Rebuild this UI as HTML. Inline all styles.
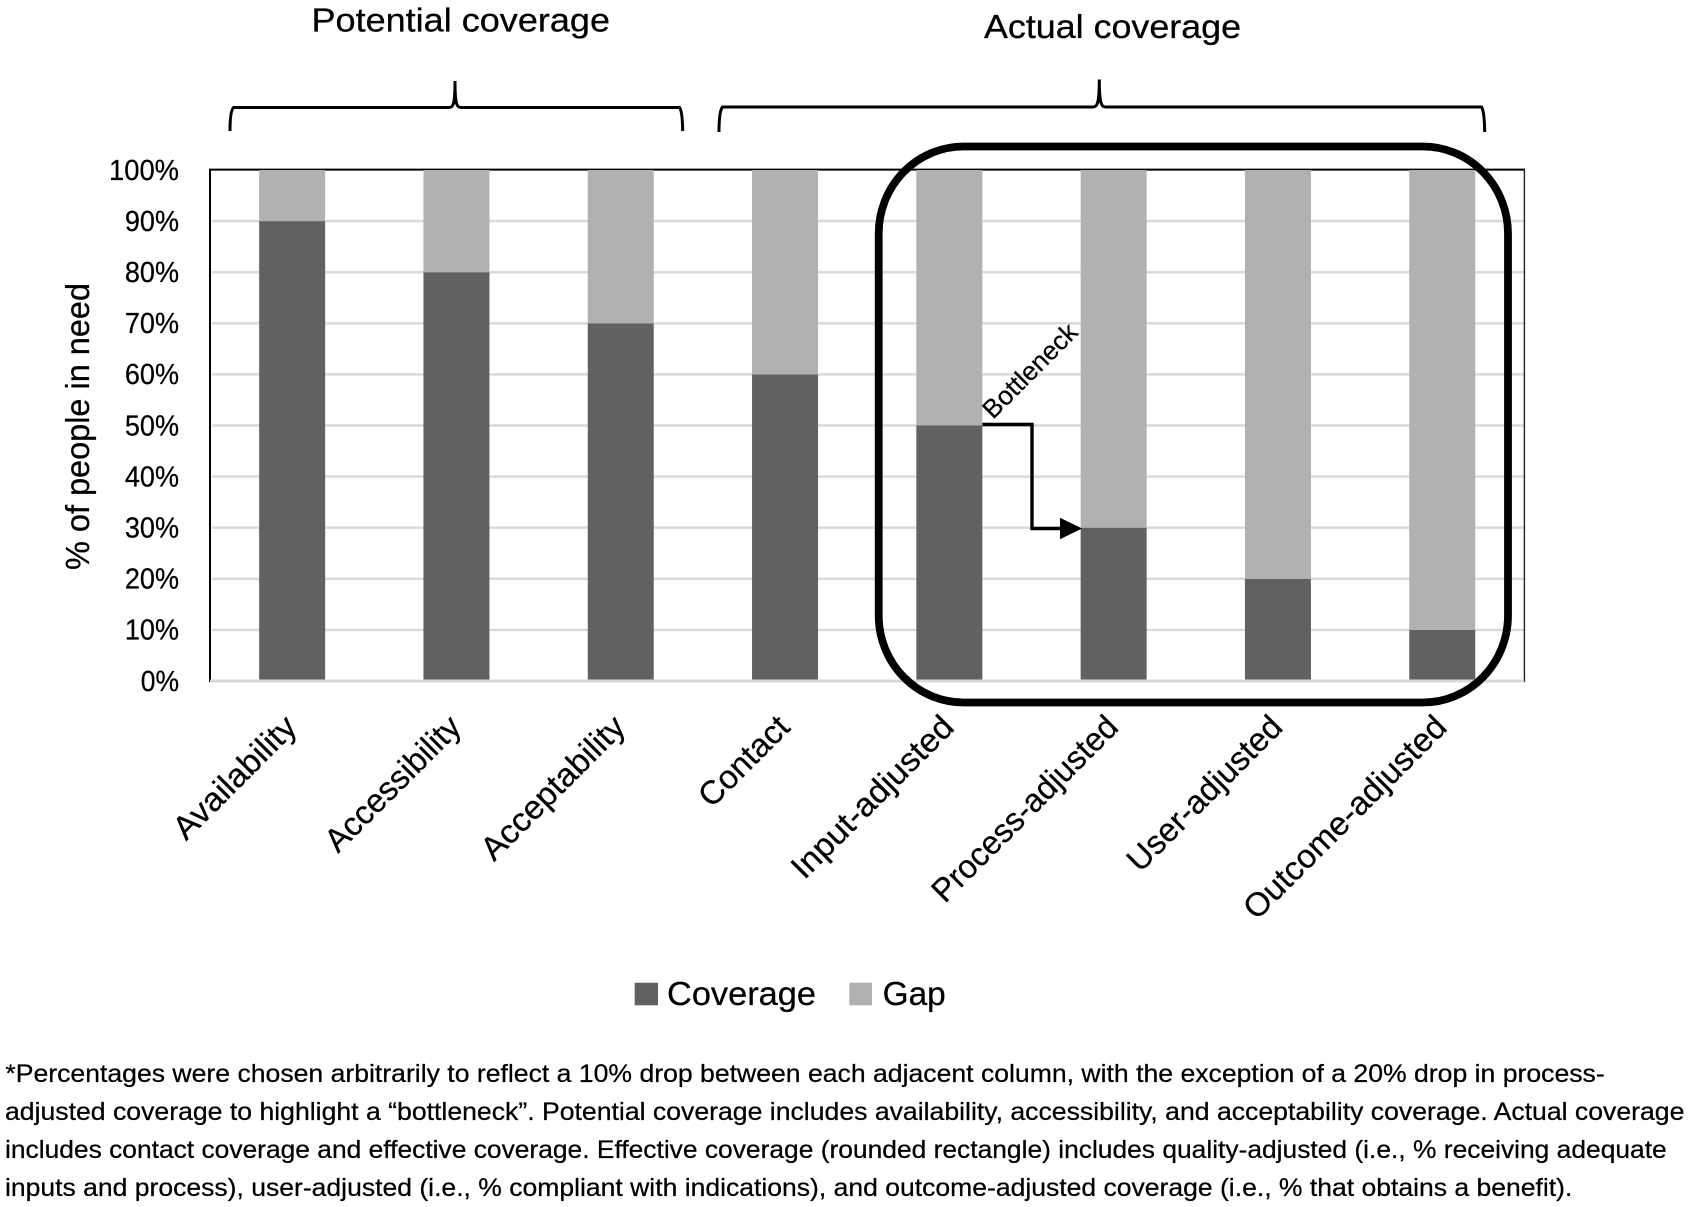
<!DOCTYPE html>
<html lang="en">
<head>
<meta charset="utf-8">
<title>Coverage cascade chart</title>
<style>
  html, body { margin: 0; padding: 0; background: #fff; }
  body { width: 1689px; height: 1207px; overflow: hidden; }
  svg { display: block; }
  text { font-family: "Liberation Sans", sans-serif; fill: #000; stroke: #000; stroke-width: 0.25px; }
</style>
</head>
<body>
<svg id="chart" xmlns="http://www.w3.org/2000/svg" width="1689" height="1207" viewBox="0 0 1689 1207">
  <rect x="0" y="0" width="1689" height="1207" fill="#ffffff"/>
  <g id="grid"></g>
  <path d="M209 169.6 H1525" stroke="#000" stroke-width="2" fill="none"/>
  <path d="M210 170 V682" stroke="#000" stroke-width="2" fill="none"/>
  <path d="M1524.4 170 V682" stroke="#222" stroke-width="1.4" fill="none"/>
  <g id="bars"></g>
  <path d="M210 681 H1524" stroke="#d9d9d9" stroke-width="3" fill="none"/>
  <g id="yticks"></g>
  <g id="xticks"></g>

  <text transform="translate(89 570) rotate(-90)" font-size="33" textLength="287" lengthAdjust="spacingAndGlyphs">% of people in need</text>

  <text x="311.5" y="31.5" font-size="33" textLength="298.5" lengthAdjust="spacingAndGlyphs">Potential coverage</text>
  <text x="984" y="38" font-size="33" textLength="257" lengthAdjust="spacingAndGlyphs">Actual coverage</text>

  <path fill="none" stroke="#000" stroke-width="3" d="M230 131 C230 119 231 110 233.5 107.5 L449 107.5 C453 107.5 455 105 455 81 C455 105 457 107.5 461 107.5 L679.5 107.5 C681.5 110 682.5 119 682.7 131"/>
  <path fill="none" stroke="#000" stroke-width="3" d="M719 132 C719 119 720 110 722.5 107 L1093 107 C1097 107 1099.3 104 1099.3 79.5 C1099.3 104 1101.5 107 1105.5 107 L1481.5 107 C1483.5 110 1484.5 119 1484.7 132"/>

  <rect x="878.7" y="146.5" width="629.3" height="556" rx="85" ry="87" fill="none" stroke="#000" stroke-width="7.8"/>

  <path d="M982.4 424.5 H1032 V528.5 H1062" fill="none" stroke="#000" stroke-width="3.4"/>
  <path d="M1060 517.8 L1082 528.5 L1060 539.2 Z" fill="#000"/>
  <text transform="translate(993 420) rotate(-45)" font-size="26" textLength="122" lengthAdjust="spacingAndGlyphs">Bottleneck</text>

  <rect x="634.7" y="982.7" width="23.3" height="22.6" fill="#616161"/>
  <text x="667" y="1005" font-size="33" textLength="149" lengthAdjust="spacingAndGlyphs">Coverage</text>
  <rect x="849.3" y="982.7" width="22.7" height="22.6" fill="#b1b1b1"/>
  <text x="882.7" y="1005" font-size="33" textLength="63" lengthAdjust="spacingAndGlyphs">Gap</text>

  <g font-size="25">
    <text x="5.4" y="1082" textLength="1599.3" lengthAdjust="spacingAndGlyphs">*Percentages were chosen arbitrarily to reflect a 10% drop between each adjacent column, with the exception of a 20% drop in process-</text>
    <text x="5" y="1120" textLength="1679.4" lengthAdjust="spacingAndGlyphs">adjusted coverage to highlight a “bottleneck”. Potential coverage includes availability, accessibility, and acceptability coverage. Actual coverage</text>
    <text x="5" y="1158" textLength="1661.7" lengthAdjust="spacingAndGlyphs">includes contact coverage and effective coverage. Effective coverage (rounded rectangle) includes quality-adjusted (i.e., % receiving adequate</text>
    <text x="5" y="1196" textLength="1567.4" lengthAdjust="spacingAndGlyphs">inputs and process), user-adjusted (i.e., % compliant with indications), and outcome-adjusted coverage (i.e., % that obtains a benefit).</text>
  </g>
</svg>
<script>
const categories = ["Availability", "Accessibility", "Acceptability", "Contact", "Input-adjusted", "Process-adjusted", "User-adjusted", "Outcome-adjusted"];
const coverageValues = [90, 80, 70, 60, 50, 30, 20, 10];
const gapValues = [10, 20, 30, 40, 50, 70, 80, 90];
const tickValues = [0, 10, 20, 30, 40, 50, 60, 70, 80, 90, 100];
const tickLabels = ["0%", "10%", "20%", "30%", "40%", "50%", "60%", "70%", "80%", "90%", "100%"];

const NS = "http://www.w3.org/2000/svg";
const plotLeft = 210, plotRight = 1524.4, plotBottom = 681, pxPerUnit = 5.11;
const barWidth = 66;
const glyphWidths = { A:579,C:533,I:252,O:662,P:517,U:642,a:479,b:525,c:423,d:525,e:498,g:471,i:229,j:239,l:229,m:799,n:525,o:527,p:525,r:349,s:391,t:335,u:525,v:452,y:453,"-":306,"%":715,"0":507,"1":507,"2":507,"3":507,"4":507,"5":507,"6":507,"7":507,"8":507,"9":507 };

function yScale(v) { return plotBottom - v * pxPerUnit; }
function xCenter(i) { return plotLeft + (plotRight - plotLeft) / categories.length * (i + 0.5); }
function textWidth(s, size) {
  let w = 0;
  for (const ch of s) { w += glyphWidths[ch] || 500; }
  return w / 1000 * size;
}
function make(tag, parent) {
  const el = document.createElementNS(NS, tag);
  parent.appendChild(el);
  return el;
}

const gridGroup = document.getElementById("grid");
const barGroup = document.getElementById("bars");
const yGroup = document.getElementById("yticks");
const xGroup = document.getElementById("xticks");

tickValues.forEach(function (v, i) {
  if (v > 0 && v < 100) {
    const line = make("line", gridGroup);
    
    
    line.setAttribute("x1", plotLeft + 2);
    line.setAttribute("x2", plotRight);
    line.setAttribute("y1", yScale(v));
    line.setAttribute("y2", yScale(v));
    line.setAttribute("stroke", "#d9d9d9");
    line.setAttribute("stroke-width", "2.4");
  }
  const label = make("text", yGroup);
  
  
  label.setAttribute("x", 179);
  label.setAttribute("y", yScale(v) + 9.8);
  label.setAttribute("text-anchor", "end");
  label.setAttribute("font-size", "29");
  label.setAttribute("textLength", textWidth(tickLabels[i], 31.3));
  label.setAttribute("lengthAdjust", "spacingAndGlyphs");
  label.textContent = tickLabels[i];
});

categories.forEach(function (name, i) {
  const cx = xCenter(i);
  const cov = make("rect", barGroup);
  
  
  cov.setAttribute("x", cx - barWidth / 2);
  cov.setAttribute("width", barWidth);
  cov.setAttribute("y", yScale(coverageValues[i]));
  cov.setAttribute("height", yScale(0) - yScale(coverageValues[i]));
  cov.setAttribute("fill", "#616161");

  const gap = make("rect", barGroup);
  
  
  gap.setAttribute("x", cx - barWidth / 2);
  gap.setAttribute("width", barWidth);
  gap.setAttribute("y", yScale(coverageValues[i] + gapValues[i]));
  gap.setAttribute("height", yScale(coverageValues[i]) - yScale(coverageValues[i] + gapValues[i]));
  gap.setAttribute("fill", "#b1b1b1");

  const label = make("text", xGroup);
  
  
  label.setAttribute("transform", "translate(" + (cx + 6.5) + " 729) rotate(-45)");
  label.setAttribute("text-anchor", "end");
  label.setAttribute("font-size", "33");
  label.setAttribute("textLength", textWidth(name, 35.8));
  label.setAttribute("lengthAdjust", "spacingAndGlyphs");
  label.textContent = name;
});
</script>
</body>
</html>
